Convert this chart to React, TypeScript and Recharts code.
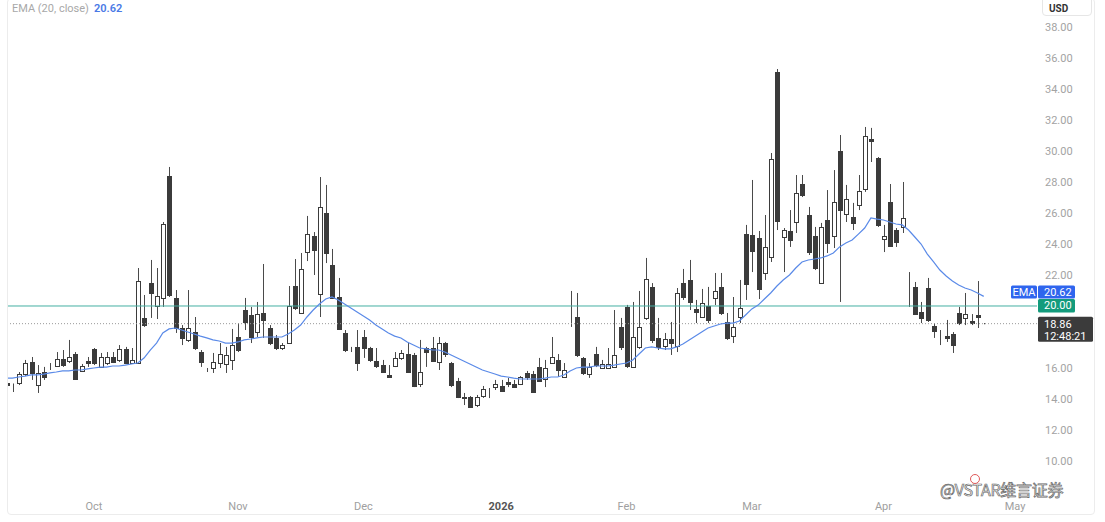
import React from 'react';
import { ComposedChart, Bar, Line, XAxis, YAxis, ReferenceLine } from 'recharts';

const opens = [
  15.0, 14.72, 15.03, 15.61, 16.39, 14.9, 15.74, 16.13, 16.13, 16.58,
  16.45, 16.9, 15.81, 16.45, 17.23, 16.07, 16.32, 16.71, 16.52, 17.23,
  16.32, 16.32, 19.23, 21.48, 20.0, 20.52, 28.39, 20.52, 18.58, 17.81,
  18.32, 17.03, 15.84, 16.0, 16.32, 16.26, 16.52, 18.0, 19.74, 19.42,
  18.32, 19.55, 18.58, 17.94, 17.29, 17.61, 21.29, 19.55, 23.48, 24.52,
  20.77, 26.0, 22.65, 20.58, 18.26, 17.23, 17.36, 18.0, 17.29, 16.45,
  16.19, 15.55, 16.13, 16.65, 16.9, 16.84, 14.97, 17.29, 17.29, 16.39,
  17.61, 16.32, 15.16, 14.1, 14.13, 13.61, 14.19, 14.39, 14.77, 14.84,
  15.1, 14.97, 14.97, 15.68, 15.61, 16.06, 15.29, 16.32, 16.52, 15.42,
  20.0, 19.29, 16.65, 15.61, 16.9, 16.0, 16.0, 16.07, 18.65, 19.94,
  16.07, 17.36, 19.23, 21.23, 17.94, 17.42, 17.87, 17.42, 21.48, 21.68,
  19.81, 19.29, 20.0, 20.52, 21.23, 18.97, 18.07, 19.29, 24.65, 24.58,
  24.39, 22.13, 23.16, 35.1, 24.45, 24.84, 25.42, 27.87, 25.87, 24.52,
  21.48, 25.55, 24.52, 30.0, 25.94, 25.74, 26.52, 27.55, 30.77, 29.55,
  24.32, 26.71, 24.9, 25.1, 21.03, 21.23, 19.61, 21.16, 18.71, 18.26,
  18.07, 18.2, 19.55, 19.23, 19.03, 19.42, 18.86,
];
const highs = [
  15.3, 15.0, 15.74, 16.52, 16.71, 16.19, 16.07, 16.32, 17.03, 17.16,
  17.81, 17.03, 16.26, 16.71, 17.29, 16.97, 17.03, 17.03, 17.48, 17.36,
  17.29, 22.45, 20.71, 22.97, 22.45, 25.42, 28.97, 21.03, 18.77, 21.03,
  19.29, 17.16, 16.0, 16.97, 17.61, 17.36, 18.52, 18.9, 20.52, 19.94,
  20.26, 22.71, 18.77, 18.13, 17.61, 21.29, 23.03, 23.42, 25.81, 24.77,
  28.32, 27.81, 23.68, 21.81, 18.45, 17.36, 18.45, 18.45, 17.36, 17.29,
  16.52, 16.19, 17.03, 17.16, 17.61, 16.97, 17.81, 17.36, 18.0, 18.0,
  17.68, 16.39, 15.36, 14.39, 14.19, 14.26, 14.84, 14.71, 15.23, 15.23,
  15.36, 15.23, 15.48, 15.81, 15.81, 16.65, 16.52, 18.0, 16.9, 16.32,
  20.97, 20.84, 16.71, 16.32, 17.36, 16.52, 17.29, 19.74, 19.23, 20.07,
  20.26, 20.97, 23.1, 21.48, 19.23, 18.26, 18.97, 21.16, 22.39, 22.97,
  20.39, 21.1, 21.23, 22.13, 22.13, 19.55, 20.58, 21.68, 25.23, 28.13,
  24.84, 25.87, 29.87, 35.29, 25.03, 26.19, 28.45, 28.45, 26.39, 25.1,
  25.36, 27.48, 28.77, 31.03, 27.81, 26.65, 28.45, 31.55, 31.49, 29.61,
  25.23, 27.87, 25.03, 28.0, 22.19, 21.55, 20.26, 21.81, 18.9, 18.45,
  19.1, 18.32, 19.94, 20.84, 19.48, 21.61, 18.9,
];
const lows = [
  14.5, 14.45, 14.9, 15.48, 15.23, 14.39, 15.23, 15.87, 16.07, 16.07,
  16.32, 15.23, 15.74, 16.07, 16.19, 16.0, 16.19, 16.32, 16.39, 16.26,
  16.3, 16.28, 18.65, 19.23, 19.16, 19.94, 20.58, 18.26, 17.48, 17.68,
  17.16, 16.07, 15.74, 15.68, 16.0, 15.68, 15.87, 17.03, 18.45, 17.61,
  18.0, 17.94, 17.48, 17.16, 17.16, 17.55, 19.74, 19.5, 22.9, 22.0,
  19.29, 22.77, 20.45, 18.45, 17.03, 17.03, 15.81, 16.65, 16.39, 16.0,
  15.68, 15.36, 16.06, 16.52, 15.68, 14.77, 14.77, 16.07, 16.39, 15.87,
  16.71, 14.77, 14.06, 13.61, 13.42, 13.48, 14.07, 14.06, 14.58, 14.45,
  14.77, 14.71, 14.9, 15.23, 14.39, 15.1, 14.77, 16.28, 15.42, 15.36,
  18.65, 16.71, 15.55, 15.36, 16.06, 15.94, 15.97, 16.0, 17.16, 16.0,
  16.0, 17.23, 19.1, 17.61, 17.16, 17.16, 16.84, 17.03, 20.39, 19.74,
  18.9, 19.23, 18.9, 20.06, 19.42, 17.81, 17.61, 18.9, 20.39, 22.19,
  20.45, 21.68, 22.84, 24.9, 22.19, 23.81, 24.71, 27.03, 23.29, 22.32,
  21.45, 23.42, 23.74, 20.26, 25.42, 24.9, 26.19, 27.36, 29.29, 25.1,
  23.48, 23.81, 23.81, 24.71, 19.94, 19.42, 18.9, 18.97, 17.94, 17.48,
  17.68, 16.97, 18.77, 18.77, 18.77, 18.58, 18.82,
];
const closes = [
  14.9, 14.75, 15.61, 16.32, 15.68, 15.68, 15.42, 16.16, 16.58, 16.19,
  16.71, 15.29, 16.13, 16.32, 16.32, 16.71, 16.71, 16.39, 17.23, 16.32,
  16.52, 21.61, 18.77, 20.84, 20.65, 25.29, 20.71, 18.58, 17.94, 18.58,
  17.29, 16.39, 15.81, 16.39, 16.9, 16.84, 17.49, 17.16, 18.97, 18.0,
  19.48, 19.1, 17.61, 17.29, 17.48, 20.0, 19.87, 22.39, 24.65, 23.61,
  26.39, 23.42, 20.52, 18.52, 17.16, 17.2, 16.32, 17.29, 16.52, 16.13,
  15.74, 15.42, 16.65, 16.97, 15.74, 14.84, 15.74, 17.03, 16.45, 17.61,
  16.9, 14.9, 14.13, 14.06, 13.48, 14.13, 14.65, 14.42, 14.97, 14.52,
  14.97, 14.77, 15.42, 15.42, 14.45, 15.16, 16.0, 16.71, 15.87, 15.87,
  20.03, 16.84, 15.68, 16.07, 16.19, 16.26, 16.26, 16.84, 17.36, 16.13,
  18.0, 18.65, 21.74, 17.81, 17.36, 17.87, 17.61, 20.84, 20.58, 20.26,
  19.61, 20.19, 19.1, 20.97, 19.55, 17.94, 18.65, 19.87, 21.42, 23.55,
  21.1, 23.81, 29.48, 25.48, 24.9, 24.26, 27.29, 27.16, 23.48, 22.45,
  25.1, 24.07, 26.71, 26.19, 26.9, 25.36, 27.42, 30.97, 30.65, 25.23,
  24.52, 23.87, 24.13, 25.68, 21.06, 19.48, 19.23, 19.1, 18.39, 18.23,
  17.94, 17.48, 18.9, 19.48, 18.9, 19.29, 18.86,
];
const emaValues = [
  15.35, 15.35, 15.42, 15.48, 15.55, 15.55, 15.61, 15.68, 15.74, 15.81,
  15.81, 15.87, 15.87, 15.94, 16.0, 16.06, 16.06, 16.13, 16.13, 16.19,
  16.26, 16.32, 16.64, 17.16, 17.61, 18.26, 18.52, 18.58, 18.45, 18.32,
  18.19, 18.06, 17.94, 17.81, 17.74, 17.61, 17.61, 17.68, 17.81, 17.87,
  17.94, 18.0, 18.0, 18.0, 18.0, 18.19, 18.45, 18.77, 19.29, 19.74,
  20.13, 20.45, 20.58, 20.39, 20.13, 19.87, 19.61, 19.36, 19.1, 18.77,
  18.52, 18.26, 18.06, 17.94, 17.68, 17.48, 17.29, 17.23, 17.16, 17.16,
  17.03, 16.84, 16.64, 16.45, 16.26, 16.06, 15.87, 15.74, 15.61, 15.48,
  15.42, 15.35, 15.29, 15.29, 15.29, 15.29, 15.35, 15.42, 15.42, 15.55,
  15.81, 16.0, 16.06, 16.06, 16.13, 16.13, 16.13, 16.19, 16.26, 16.32,
  16.52, 16.9, 17.29, 17.36, 17.29, 17.23, 17.23, 17.36, 17.55, 17.81,
  18.06, 18.32, 18.58, 18.71, 18.84, 18.9, 18.9, 19.03, 19.42, 19.81,
  20.06, 20.45, 20.84, 21.29, 21.68, 22.0, 22.45, 22.84, 22.97, 23.03,
  23.1, 23.23, 23.42, 23.81, 24.06, 24.26, 24.64, 25.03, 25.68, 25.61,
  25.55, 25.42, 25.29, 25.23, 24.9, 24.45, 24.0, 23.35, 22.84, 22.32,
  21.94, 21.61, 21.36, 21.16, 21.03, 20.84, 20.62,
];

const monthTickIndex = [14, 37, 57, 79, 99, 119, 140, 161];
const monthTickLabels = ['Oct', 'Nov', 'Dec', '2026', 'Feb', 'Mar', 'Apr', 'May'];
const yTicks = [10, 12, 14, 16, 18, 20, 22, 24, 26, 28, 30, 32, 34, 36, 38];
const futureSlots = 8;
const lastPrice = 18.86;
const lastEma = 20.62;
const levelLine = 20;
const clockText = '12:48:21';

const data = Array.from({ length: opens.length + futureSlots }, (_, i) =>
  i < opens.length
    ? { i, o: opens[i], h: highs[i], l: lows[i], c: closes[i], ema: emaValues[i] }
    : { i }
);

const FONT = 'Roboto, "Liberation Sans", Arial, sans-serif';
const DARK = '#3b3b3b';
const BLUE = '#2f65ee';
const GREEN = '#139b7c';

// price ticks hidden behind the opaque price tags on the right scale
const coveredByTag = (v: number) => {
  const dLevel = v - levelLine;
  const dPrice = v - lastPrice;
  return Math.abs(dLevel) < 0.6 || (dPrice > -1.3 && dPrice < 0.6);
};

const Candle = (props: any) => {
  const { x, y, width, height, payload } = props;
  if (!payload || payload.h == null) return null;
  const { o, h, l, c } = payload;
  const top = Math.min(y, y + height);
  const bot = Math.max(y, y + height);
  const ppu = h - l > 0 ? (bot - top) / (h - l) : 0;
  const cx = Math.round(x + width / 2) + 0.5;
  const yO = top + (h - o) * ppu;
  const yC = top + (h - c) * ppu;
  const bTop = Math.round(Math.min(yO, yC)) + 0.5;
  const bH = Math.max(Math.round(Math.max(yO, yC) - Math.min(yO, yC)), 0);
  const up = c >= o;
  return (
    <g>
      <line x1={cx} x2={cx} y1={top} y2={bot} stroke="#4a4a4a" strokeWidth={1} />
      <rect
        x={cx - 2}
        y={bTop}
        width={4}
        height={bH}
        fill={up ? '#ffffff' : DARK}
        stroke={DARK}
        strokeWidth={1}
      />
    </g>
  );
};

const MonthTick = (props: any) => {
  const { x, y, payload } = props;
  const k = monthTickIndex.indexOf(payload.value);
  const label = monthTickLabels[k] ?? '';
  const bold = label === '2026';
  return (
    <text
      x={x}
      y={y}
      dy="0.71em"
      textAnchor="middle"
      fontSize={11}
      fontFamily={FONT}
      fill={bold ? '#555' : '#a0a0a0'}
      fontWeight={bold ? 700 : 400}
    >
      {label}
    </text>
  );
};

const PriceAxisTick = (props: any) => {
  const { x, y, payload } = props;
  if (coveredByTag(payload.value)) return null;
  return (
    <text x={x} y={y} dy="0.355em" textAnchor="start" fontSize={11} fontFamily={FONT} fill="#a3a3a3">
      {Number(payload.value).toFixed(2)}
    </text>
  );
};

const EmaTag = (props: any) => {
  const vb = props.viewBox || {};
  const right = (vb.x ?? 0) + (vb.width ?? 0);
  const cy = (vb.y ?? 0) - 4.5;
  return (
    <g fontFamily={FONT} fontSize={11}>
      <rect x={right - 26} y={cy - 6.5} width={26} height={13} fill={BLUE} rx={1.5} />
      <text x={right - 13} y={cy} dy="0.36em" textAnchor="middle" fill="#fff">EMA</text>
      <rect x={right + 1} y={cy - 6.5} width={37} height={13} fill={BLUE} rx={1.5} />
      <text x={right + 7} y={cy} dy="0.36em" fill="#fff">{lastEma.toFixed(2)}</text>
    </g>
  );
};

const LevelTag = (props: any) => {
  const vb = props.viewBox || {};
  const right = (vb.x ?? 0) + (vb.width ?? 0);
  const cy = (vb.y ?? 0) - 0.5;
  return (
    <g fontFamily={FONT} fontSize={11}>
      <rect x={right + 1} y={cy - 6.5} width={37} height={13.5} fill={GREEN} rx={1.5} />
      <text x={right + 7} y={cy} dy="0.36em" fill="#fff">{levelLine.toFixed(2)}</text>
    </g>
  );
};

const PriceTag = (props: any) => {
  const vb = props.viewBox || {};
  const right = (vb.x ?? 0) + (vb.width ?? 0);
  const cy = vb.y ?? 0;
  return (
    <g fontFamily={FONT} fontSize={11}>
      <rect x={right + 1} y={cy - 7} width={55} height={25} fill={DARK} rx={1.5} />
      <text x={right + 7} y={cy} dy="0.36em" fill="#fff">{lastPrice.toFixed(2)}</text>
      <text x={right + 7} y={cy + 12} dy="0.36em" fill="#fff">{clockText}</text>
    </g>
  );
};

export default function App() {
  return (
    <div
      style={{
        position: 'absolute',
        left: 0,
        top: 0,
        width: 1105,
        height: 522,
        background: '#fff',
        fontFamily: FONT,
        overflow: 'hidden',
      }}
    >
      <ComposedChart
        width={1105}
        height={522}
        data={data}
        margin={{ top: 5, right: 0, bottom: 6, left: 3 }}
      >
        <XAxis
          dataKey="i"
          type="category"
          ticks={monthTickIndex}
          interval={0}
          tick={<MonthTick />}
          axisLine={false}
          tickLine={false}
          tickMargin={6}
          height={26}
        />
        <YAxis
          orientation="right"
          type="number"
          domain={[8.129, 39.419]}
          allowDataOverflow
          ticks={yTicks}
          interval={0}
          tick={<PriceAxisTick />}
          axisLine={false}
          tickLine={false}
          width={68}
        />
        <ReferenceLine y={levelLine} stroke="#45b0a2" strokeWidth={1} label={<LevelTag />} />
        <ReferenceLine
          y={lastPrice}
          stroke="#9a9a9a"
          strokeWidth={1}
          strokeDasharray="1 2"
          label={<PriceTag />}
        />
        <Bar
          dataKey={(d: any) => (d.h == null ? null : [d.l, d.h])}
          barSize={5}
          shape={<Candle />}
          isAnimationActive={false}
        />
        <Line
          dataKey="ema"
          stroke="#5a8ae8"
          strokeWidth={1.2}
          dot={false}
          activeDot={false}
          isAnimationActive={false}
        />
        <ReferenceLine y={lastEma} stroke="none" label={<EmaTag />} />
      </ComposedChart>

      {/* left clip + frame */}
      <div style={{ position: 'absolute', left: 0, top: 0, width: 7, height: 522, background: '#fff' }} />
      <div
        style={{
          position: 'absolute',
          left: 7,
          top: -2,
          width: 1088,
          height: 517,
          border: '1px solid #ececec',
          borderRadius: 4,
          boxSizing: 'border-box',
          pointerEvents: 'none',
        }}
      />

      {/* legend */}
      <div style={{ position: 'absolute', left: 12, top: 2, fontSize: 11, color: '#a8a8a8', whiteSpace: 'nowrap' }}>
        EMA (20, close)
        <span style={{ color: '#4a79e6', fontWeight: 600, marginLeft: 5 }}>{lastEma.toFixed(2)}</span>
      </div>

      {/* currency box */}
      <div
        style={{
          position: 'absolute',
          left: 1042,
          top: -4,
          width: 50,
          height: 20,
          border: '1px solid #e6e6e6',
          borderRadius: 4,
          boxSizing: 'border-box',
          fontSize: 10,
          fontWeight: 700,
          color: '#333',
          paddingTop: 6,
          paddingLeft: 6,
        }}
      >
        USD
      </div>

      {/* watermark */}
      <div
        style={{
          position: 'absolute',
          left: 940,
          top: 477,
          fontSize: 16,
          color: '#fff',
          WebkitTextStroke: '0.7px #666',
          whiteSpace: 'nowrap',
          fontFamily: '"Noto Sans CJK SC", ' + FONT,
          letterSpacing: -0.3,
        }}
      >
        @VSTAR维言证券
      </div>
      <div
        style={{
          position: 'absolute',
          left: 970,
          top: 474,
          width: 10,
          height: 10,
          borderRadius: 5,
          border: '1.5px solid #e05a5a',
          boxSizing: 'border-box',
        }}
      />
    </div>
  );
}
